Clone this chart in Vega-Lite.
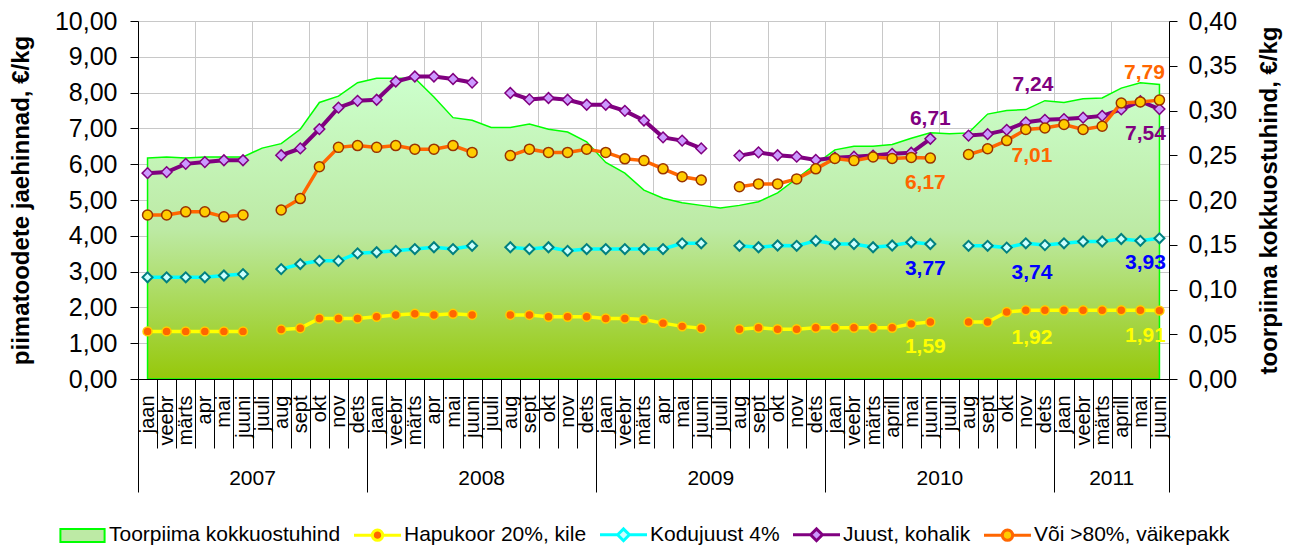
{
  "$schema": "https://vega.github.io/schema/vega-lite/v6.json",
  "width": 1031,
  "height": 358,
  "autosize": {"type": "none"},
  "padding": {"left": 138, "top": 21, "right": 127, "bottom": 167},
  "background": "white",
  "config": {
    "view": {"stroke": null},
    "font": "Liberation Sans",
    "locale": {"number": {"decimal": ",", "thousands": " ", "grouping": [3], "currency": ["", " €"]}},
    "axis": {"labelColor": "black", "titleColor": "black", "domainColor": "black", "tickColor": "black", "gridColor": "#C8C8C8"}
  },
  "data": {
    "values": [
      {"kuu": "jaan 2007", "toorpiim": 0.247, "hapukoor": 1.33, "kodujuust": 2.84, "juust": 5.75, "voi": 4.58},
      {"kuu": "veebr 2007", "toorpiim": 0.248, "hapukoor": 1.33, "kodujuust": 2.84, "juust": 5.78, "voi": 4.58},
      {"kuu": "märts 2007", "toorpiim": 0.247, "hapukoor": 1.33, "kodujuust": 2.84, "juust": 6.01, "voi": 4.67},
      {"kuu": "apr 2007", "toorpiim": 0.248, "hapukoor": 1.33, "kodujuust": 2.84, "juust": 6.06, "voi": 4.67},
      {"kuu": "mai 2007", "toorpiim": 0.248, "hapukoor": 1.33, "kodujuust": 2.89, "juust": 6.11, "voi": 4.53},
      {"kuu": "juuni 2007", "toorpiim": 0.248, "hapukoor": 1.33, "kodujuust": 2.93, "juust": 6.11, "voi": 4.58},
      {"kuu": "juuli 2007", "toorpiim": 0.258, "hapukoor": null, "kodujuust": null, "juust": null, "voi": null},
      {"kuu": "aug 2007", "toorpiim": 0.263, "hapukoor": 1.38, "kodujuust": 3.07, "juust": 6.25, "voi": 4.72},
      {"kuu": "sept 2007", "toorpiim": 0.279, "hapukoor": 1.42, "kodujuust": 3.21, "juust": 6.44, "voi": 5.04},
      {"kuu": "okt 2007", "toorpiim": 0.309, "hapukoor": 1.69, "kodujuust": 3.3, "juust": 6.98, "voi": 5.93},
      {"kuu": "nov 2007", "toorpiim": 0.316, "hapukoor": 1.69, "kodujuust": 3.3, "juust": 7.58, "voi": 6.47},
      {"kuu": "dets 2007", "toorpiim": 0.331, "hapukoor": 1.69, "kodujuust": 3.51, "juust": 7.77, "voi": 6.52},
      {"kuu": "jaan 2008", "toorpiim": 0.336, "hapukoor": 1.74, "kodujuust": 3.54, "juust": 7.8, "voi": 6.47},
      {"kuu": "veebr 2008", "toorpiim": 0.336, "hapukoor": 1.79, "kodujuust": 3.58, "juust": 8.31, "voi": 6.52},
      {"kuu": "märts 2008", "toorpiim": 0.336, "hapukoor": 1.82, "kodujuust": 3.63, "juust": 8.45, "voi": 6.42},
      {"kuu": "apr 2008", "toorpiim": 0.315, "hapukoor": 1.79, "kodujuust": 3.68, "juust": 8.45, "voi": 6.42},
      {"kuu": "mai 2008", "toorpiim": 0.292, "hapukoor": 1.82, "kodujuust": 3.63, "juust": 8.38, "voi": 6.52},
      {"kuu": "juuni 2008", "toorpiim": 0.289, "hapukoor": 1.79, "kodujuust": 3.72, "juust": 8.28, "voi": 6.33},
      {"kuu": "juuli 2008", "toorpiim": 0.281, "hapukoor": null, "kodujuust": null, "juust": null, "voi": null},
      {"kuu": "aug 2008", "toorpiim": 0.281, "hapukoor": 1.79, "kodujuust": 3.68, "juust": 7.99, "voi": 6.24},
      {"kuu": "sept 2008", "toorpiim": 0.285, "hapukoor": 1.79, "kodujuust": 3.63, "juust": 7.81, "voi": 6.42},
      {"kuu": "okt 2008", "toorpiim": 0.279, "hapukoor": 1.74, "kodujuust": 3.68, "juust": 7.85, "voi": 6.33},
      {"kuu": "nov 2008", "toorpiim": 0.276, "hapukoor": 1.74, "kodujuust": 3.58, "juust": 7.8, "voi": 6.33},
      {"kuu": "dets 2008", "toorpiim": 0.265, "hapukoor": 1.74, "kodujuust": 3.63, "juust": 7.66, "voi": 6.42},
      {"kuu": "jaan 2009", "toorpiim": 0.242, "hapukoor": 1.69, "kodujuust": 3.63, "juust": 7.66, "voi": 6.33},
      {"kuu": "veebr 2009", "toorpiim": 0.23, "hapukoor": 1.69, "kodujuust": 3.63, "juust": 7.49, "voi": 6.15},
      {"kuu": "märts 2009", "toorpiim": 0.211, "hapukoor": 1.66, "kodujuust": 3.63, "juust": 7.22, "voi": 6.1},
      {"kuu": "apr 2009", "toorpiim": 0.202, "hapukoor": 1.56, "kodujuust": 3.63, "juust": 6.75, "voi": 5.87},
      {"kuu": "mai 2009", "toorpiim": 0.197, "hapukoor": 1.47, "kodujuust": 3.79, "juust": 6.66, "voi": 5.65},
      {"kuu": "juuni 2009", "toorpiim": 0.194, "hapukoor": 1.42, "kodujuust": 3.79, "juust": 6.44, "voi": 5.56},
      {"kuu": "juuli 2009", "toorpiim": 0.191, "hapukoor": null, "kodujuust": null, "juust": null, "voi": null},
      {"kuu": "aug 2009", "toorpiim": 0.194, "hapukoor": 1.39, "kodujuust": 3.72, "juust": 6.24, "voi": 5.37},
      {"kuu": "sept 2009", "toorpiim": 0.198, "hapukoor": 1.43, "kodujuust": 3.68, "juust": 6.33, "voi": 5.45},
      {"kuu": "okt 2009", "toorpiim": 0.208, "hapukoor": 1.39, "kodujuust": 3.73, "juust": 6.25, "voi": 5.45},
      {"kuu": "nov 2009", "toorpiim": 0.224, "hapukoor": 1.39, "kodujuust": 3.72, "juust": 6.21, "voi": 5.59},
      {"kuu": "dets 2009", "toorpiim": 0.24, "hapukoor": 1.43, "kodujuust": 3.86, "juust": 6.12, "voi": 5.87},
      {"kuu": "jaan 2010", "toorpiim": 0.256, "hapukoor": 1.43, "kodujuust": 3.77, "juust": 6.18, "voi": 6.16},
      {"kuu": "veebr 2010", "toorpiim": 0.26, "hapukoor": 1.43, "kodujuust": 3.77, "juust": 6.21, "voi": 6.1},
      {"kuu": "märts 2010", "toorpiim": 0.26, "hapukoor": 1.43, "kodujuust": 3.68, "juust": 6.24, "voi": 6.2},
      {"kuu": "aprill 2010", "toorpiim": 0.262, "hapukoor": 1.43, "kodujuust": 3.73, "juust": 6.29, "voi": 6.16},
      {"kuu": "mai 2010", "toorpiim": 0.269, "hapukoor": 1.54, "kodujuust": 3.82, "juust": 6.32, "voi": 6.19},
      {"kuu": "juuni 2010", "toorpiim": 0.275, "hapukoor": 1.59, "kodujuust": 3.77, "juust": 6.71, "voi": 6.17},
      {"kuu": "juuli 2010", "toorpiim": 0.274, "hapukoor": null, "kodujuust": null, "juust": null, "voi": null},
      {"kuu": "aug 2010", "toorpiim": 0.275, "hapukoor": 1.59, "kodujuust": 3.72, "juust": 6.8, "voi": 6.27},
      {"kuu": "sept 2010", "toorpiim": 0.296, "hapukoor": 1.59, "kodujuust": 3.72, "juust": 6.84, "voi": 6.43},
      {"kuu": "okt 2010", "toorpiim": 0.3, "hapukoor": 1.87, "kodujuust": 3.67, "juust": 6.96, "voi": 6.66},
      {"kuu": "nov 2010", "toorpiim": 0.301, "hapukoor": 1.92, "kodujuust": 3.79, "juust": 7.17, "voi": 6.97},
      {"kuu": "dets 2010", "toorpiim": 0.311, "hapukoor": 1.92, "kodujuust": 3.74, "juust": 7.24, "voi": 7.01},
      {"kuu": "jaan 2011", "toorpiim": 0.309, "hapukoor": 1.92, "kodujuust": 3.79, "juust": 7.26, "voi": 7.11},
      {"kuu": "veebr 2011", "toorpiim": 0.313, "hapukoor": 1.92, "kodujuust": 3.84, "juust": 7.3, "voi": 6.97},
      {"kuu": "märts 2011", "toorpiim": 0.314, "hapukoor": 1.92, "kodujuust": 3.84, "juust": 7.35, "voi": 7.06},
      {"kuu": "aprill 2011", "toorpiim": 0.325, "hapukoor": 1.92, "kodujuust": 3.91, "juust": 7.53, "voi": 7.71},
      {"kuu": "mai 2011", "toorpiim": 0.331, "hapukoor": 1.92, "kodujuust": 3.86, "juust": 7.76, "voi": 7.74},
      {"kuu": "juuni 2011", "toorpiim": 0.329, "hapukoor": 1.91, "kodujuust": 3.93, "juust": 7.54, "voi": 7.79}
    ]
  },
  "encoding": {
    "x": {
      "field": "kuu", "type": "nominal",
      "scale": {"type": "band", "paddingInner": 0, "paddingOuter": 0,
        "domain": ["jaan 2007","veebr 2007","märts 2007","apr 2007","mai 2007","juuni 2007","juuli 2007","aug 2007","sept 2007","okt 2007","nov 2007","dets 2007","jaan 2008","veebr 2008","märts 2008","apr 2008","mai 2008","juuni 2008","juuli 2008","aug 2008","sept 2008","okt 2008","nov 2008","dets 2008","jaan 2009","veebr 2009","märts 2009","apr 2009","mai 2009","juuni 2009","juuli 2009","aug 2009","sept 2009","okt 2009","nov 2009","dets 2009","jaan 2010","veebr 2010","märts 2010","aprill 2010","mai 2010","juuni 2010","juuli 2010","aug 2010","sept 2010","okt 2010","nov 2010","dets 2010","jaan 2011","veebr 2011","märts 2011","aprill 2011","mai 2011","juuni 2011"]},
      "axis": null
    }
  },
  "layer": [
    {
      "mark": {
        "type": "area", "stroke": "#00FF00", "strokeWidth": 1.5, "fillOpacity": 1,
        "fill": {"gradient": "linear", "x1": 0, "y1": 0, "x2": 0, "y2": 1,
          "stops": [{"offset": 0, "color": "#CCFFCC"}, {"offset": 0.5, "color": "#BDEAA5"}, {"offset": 1, "color": "#96C80A"}]}
      },
      "encoding": {
        "x": {
          "field": "kuu", "type": "nominal",
          "scale": {"type": "band", "paddingInner": 0, "paddingOuter": 0,
            "domain": ["jaan 2007","veebr 2007","märts 2007","apr 2007","mai 2007","juuni 2007","juuli 2007","aug 2007","sept 2007","okt 2007","nov 2007","dets 2007","jaan 2008","veebr 2008","märts 2008","apr 2008","mai 2008","juuni 2008","juuli 2008","aug 2008","sept 2008","okt 2008","nov 2008","dets 2008","jaan 2009","veebr 2009","märts 2009","apr 2009","mai 2009","juuni 2009","juuli 2009","aug 2009","sept 2009","okt 2009","nov 2009","dets 2009","jaan 2010","veebr 2010","märts 2010","aprill 2010","mai 2010","juuni 2010","juuli 2010","aug 2010","sept 2010","okt 2010","nov 2010","dets 2010","jaan 2011","veebr 2011","märts 2011","aprill 2011","mai 2011","juuni 2011"]},
          "axis": {
            "orient": "bottom", "title": null, "grid": false, "zindex": 1,
            "tickBand": "extent", "tickSize": 69, "tickWidth": 1,
            "labelAngle": -90, "labelAlign": "right", "labelBaseline": "middle",
            "labelPadding": -53, "labelFontSize": 20, "labelOverlap": false,
            "labelExpr": "split(datum.label, ' ')[0]"
          }
        },
        "y": {
          "field": "toorpiim", "type": "quantitative",
          "scale": {"domain": [0, 0.4], "nice": false},
          "axis": {
            "orient": "right", "values": [0, 0.05, 0.1, 0.15, 0.2, 0.25, 0.3, 0.35, 0.4],
            "format": ".2f", "labelFontSize": 25, "tickSize": 8, "labelPadding": 11, "grid": false,
            "title": "toorpiima kokkuostuhind, €/kg", "titleFontSize": 24, "titleFontWeight": "bold",
            "titleAngle": 270, "titleBaseline": "top", "titlePadding": 21, "zindex": 1
          }
        }
      }
    },
    {
      "mark": {"type": "line", "color": "#FFFF00", "strokeWidth": 3.5, "invalid": "break-paths-show-domains"},
      "encoding": {
        "x": {
          "field": "kuu", "type": "nominal",
          "scale": {"type": "band", "paddingInner": 0, "paddingOuter": 0},
          "axis": {
            "orient": "bottom", "title": null, "grid": true, "ticks": false, "labels": false, "domain": false,
            "bandPosition": 0,
            "values": ["apr 2007","juuli 2007","okt 2007","jaan 2008","apr 2008","juuli 2008","okt 2008","jaan 2009","apr 2009","juuli 2009","okt 2009","jaan 2010","aprill 2010","juuli 2010","okt 2010","jaan 2011","aprill 2011"]
          }
        },
        "y": {
          "field": "hapukoor", "type": "quantitative",
          "scale": {"domain": [0, 10], "nice": false},
          "axis": {
            "orient": "left", "values": [0, 1, 2, 3, 4, 5, 6, 7, 8, 9, 10],
            "format": ".2f", "labelFontSize": 25, "tickSize": 8, "labelPadding": 13, "grid": true,
            "title": "piimatoodete jaehinnad, €/kg", "titleFontSize": 24, "titleFontWeight": "bold",
            "titlePadding": 21
          }
        },
        "color": {
          "datum": "Hapukoor 20%, kile", "type": "nominal",
          "scale": {
            "domain": ["Toorpiima kokkuostuhind", "Hapukoor 20%, kile", "Kodujuust 4%", "Juust, kohalik", "Või >80%, väikepakk"],
            "range": ["#00FF00", "#FFFF00", "#00FFFF", "#800080", "#FF6600"]
          },
          "legend": {
            "title": null, "orient": "none", "legendX": -66, "legendY": 503,
            "direction": "horizontal", "columns": 5, "columnPadding": 7, "padding": 0,
            "symbolSize": 2209, "labelFontSize": 21, "labelColor": "black", "labelLimit": 400, "labelOffset": 16,
            "encode": {
              "symbols": {
                "update": {
                  "shape": {"signal": "datum.value == 'Toorpiima kokkuostuhind' ? 'M-0.94,-0.28H0.94V0.28H-0.94Z' : (datum.value == 'Kodujuust 4%' || datum.value == 'Juust, kohalik') ? 'M-1,0H-0.25M0.25,0H1M-0.25,0L0,-0.25L0.25,0L0,0.25Z' : 'M-1,0H-0.22M0.22,0H1M-0.22,0A0.22,0.22,0,1,0,0.22,0A0.22,0.22,0,1,0,-0.22,0Z'"},
                  "fill": {"signal": "datum.value == 'Toorpiima kokkuostuhind' ? '#BDEAA5' : datum.value == 'Hapukoor 20%, kile' ? '#FF6600' : datum.value == 'Kodujuust 4%' ? '#CCFFFF' : datum.value == 'Juust, kohalik' ? '#CC99FF' : '#FFCC00'"},
                  "stroke": {"signal": "datum.value == 'Toorpiima kokkuostuhind' ? '#00FF00' : datum.value == 'Hapukoor 20%, kile' ? '#FFFF00' : datum.value == 'Kodujuust 4%' ? '#00FFFF' : datum.value == 'Juust, kohalik' ? '#800080' : '#FF6600'"},
                  "strokeWidth": {"signal": "datum.value == 'Toorpiima kokkuostuhind' ? 2 : 3"},
                  "opacity": {"value": 1}
                }
              }
            }
          }
        }
      }
    },
    {
      "mark": {"type": "point", "shape": "circle", "filled": true, "fill": "#FF6600", "stroke": "#FFCC00", "strokeWidth": 1.5, "size": 80, "opacity": 1},
      "encoding": {
        "y": {"field": "hapukoor", "type": "quantitative", "scale": {"domain": [0, 10], "nice": false}, "axis": null}
      }
    },
    {
      "mark": {"type": "line", "strokeWidth": 3.5, "invalid": "break-paths-show-domains"},
      "encoding": {
        "x": {
          "field": "kuu", "type": "nominal",
          "scale": {"type": "band", "paddingInner": 0, "paddingOuter": 0},
          "axis": {
            "orient": "bottom", "title": null, "grid": false, "labels": false, "domain": false,
            "bandPosition": 0, "tickSize": 113, "tickWidth": 1,
            "values": ["jaan 2007", "jaan 2008", "jaan 2009", "jaan 2010", "jaan 2011"]
          }
        },
        "y": {"field": "kodujuust", "type": "quantitative", "scale": {"domain": [0, 10], "nice": false}, "axis": null},
        "color": {"datum": "Kodujuust 4%", "type": "nominal"}
      }
    },
    {
      "mark": {"type": "point", "shape": "diamond", "filled": true, "fill": "#CCFFFF", "stroke": "#008080", "strokeWidth": 2, "size": 100, "opacity": 1},
      "encoding": {
        "y": {"field": "kodujuust", "type": "quantitative", "scale": {"domain": [0, 10], "nice": false}, "axis": null}
      }
    },
    {
      "mark": {"type": "line", "strokeWidth": 4, "invalid": "break-paths-show-domains"},
      "encoding": {
        "x": {
          "field": "kuu", "type": "nominal",
          "scale": {"type": "band", "paddingInner": 0, "paddingOuter": 0},
          "axis": {
            "orient": "bottom", "title": null, "grid": false, "labels": false, "domain": false,
            "bandPosition": 1, "tickSize": 113, "tickWidth": 1,
            "values": ["juuni 2011"]
          }
        },
        "y": {"field": "juust", "type": "quantitative", "scale": {"domain": [0, 10], "nice": false}, "axis": null},
        "color": {"datum": "Juust, kohalik", "type": "nominal"}
      }
    },
    {
      "mark": {"type": "point", "shape": "diamond", "filled": true, "fill": "#CC99FF", "stroke": "#800080", "strokeWidth": 1.5, "size": 115, "opacity": 1},
      "encoding": {
        "y": {"field": "juust", "type": "quantitative", "scale": {"domain": [0, 10], "nice": false}, "axis": null}
      }
    },
    {
      "mark": {"type": "line", "strokeWidth": 3.5, "invalid": "break-paths-show-domains"},
      "encoding": {
        "x": {
          "field": "kuu", "type": "nominal",
          "scale": {"type": "band", "paddingInner": 0, "paddingOuter": 0},
          "axis": {
            "orient": "bottom", "title": null, "grid": false, "ticks": false, "domain": false,
            "values": ["juuli 2007", "juuli 2008", "juuli 2009", "juuli 2010", "aprill 2011"],
            "labelExpr": "split(datum.label, ' ')[1]",
            "labelAngle": 0, "labelAlign": "center", "labelBaseline": "top",
            "labelPadding": 88, "labelOffset": -9.55, "labelFontSize": 21, "labelOverlap": false
          }
        },
        "y": {"field": "voi", "type": "quantitative", "scale": {"domain": [0, 10], "nice": false}, "axis": null},
        "color": {"datum": "Või >80%, väikepakk", "type": "nominal"}
      }
    },
    {
      "mark": {"type": "point", "shape": "circle", "filled": true, "fill": "#FFCC00", "stroke": "#993300", "strokeWidth": 1.5, "size": 100, "opacity": 1},
      "encoding": {
        "y": {"field": "voi", "type": "quantitative", "scale": {"domain": [0, 10], "nice": false}, "axis": null}
      }
    },
    {
      "transform": [{"filter": "datum.kuu == 'juuni 2010'"}],
      "mark": {"type": "text", "fontSize": 21, "fontWeight": "bold", "color": "#800080", "dx": 0, "dy": -20},
      "encoding": {
        "y": {"field": "juust", "type": "quantitative", "scale": {"domain": [0, 10], "nice": false}, "axis": null},
        "text": {"field": "juust", "type": "quantitative", "format": ".2f"}
      }
    },
    {
      "transform": [{"filter": "datum.kuu == 'juuni 2010'"}, {"fold": ["voi", "kodujuust", "hapukoor"], "as": ["seeria", "hind"]}],
      "mark": {"type": "text", "fontSize": 21, "fontWeight": "bold", "dx": -5, "dy": 25},
      "encoding": {
        "y": {"field": "hind", "type": "quantitative", "scale": {"domain": [0, 10], "nice": false}, "axis": null},
        "text": {"field": "hind", "type": "quantitative", "format": ".2f"},
        "color": {"condition": [{"test": "datum.seeria == 'voi'", "value": "#FF6600"}, {"test": "datum.seeria == 'kodujuust'", "value": "#0000FF"}], "value": "#FFFF00"}
      }
    },
    {
      "transform": [{"filter": "datum.kuu == 'dets 2010'"}],
      "mark": {"type": "text", "fontSize": 21, "fontWeight": "bold", "color": "#800080", "dx": -12, "dy": -35},
      "encoding": {
        "y": {"field": "juust", "type": "quantitative", "scale": {"domain": [0, 10], "nice": false}, "axis": null},
        "text": {"field": "juust", "type": "quantitative", "format": ".2f"}
      }
    },
    {
      "transform": [{"filter": "datum.kuu == 'dets 2010'"}, {"fold": ["voi", "kodujuust", "hapukoor"], "as": ["seeria", "hind"]}],
      "mark": {"type": "text", "fontSize": 21, "fontWeight": "bold", "dx": -13, "dy": 28},
      "encoding": {
        "y": {"field": "hind", "type": "quantitative", "scale": {"domain": [0, 10], "nice": false}, "axis": null},
        "text": {"field": "hind", "type": "quantitative", "format": ".2f"},
        "color": {"condition": [{"test": "datum.seeria == 'voi'", "value": "#FF6600"}, {"test": "datum.seeria == 'kodujuust'", "value": "#0000FF"}], "value": "#FFFF00"}
      }
    },
    {
      "transform": [{"filter": "datum.kuu == 'juuni 2011'"}],
      "mark": {"type": "text", "fontSize": 21, "fontWeight": "bold", "color": "#FF6600", "dx": -15, "dy": -27},
      "encoding": {
        "y": {"field": "voi", "type": "quantitative", "scale": {"domain": [0, 10], "nice": false}, "axis": null},
        "text": {"field": "voi", "type": "quantitative", "format": ".2f"}
      }
    },
    {
      "transform": [{"filter": "datum.kuu == 'juuni 2011'"}, {"fold": ["juust", "kodujuust", "hapukoor"], "as": ["seeria", "hind"]}],
      "mark": {"type": "text", "fontSize": 21, "fontWeight": "bold", "dx": -14, "dy": 25},
      "encoding": {
        "y": {"field": "hind", "type": "quantitative", "scale": {"domain": [0, 10], "nice": false}, "axis": null},
        "text": {"field": "hind", "type": "quantitative", "format": ".2f"},
        "color": {"condition": [{"test": "datum.seeria == 'juust'", "value": "#800080"}, {"test": "datum.seeria == 'kodujuust'", "value": "#0000FF"}], "value": "#FFFF00"}
      }
    }
  ],
  "resolve": {
    "scale": {"y": "independent"},
    "axis": {"x": "independent", "y": "independent"}
  }
}
